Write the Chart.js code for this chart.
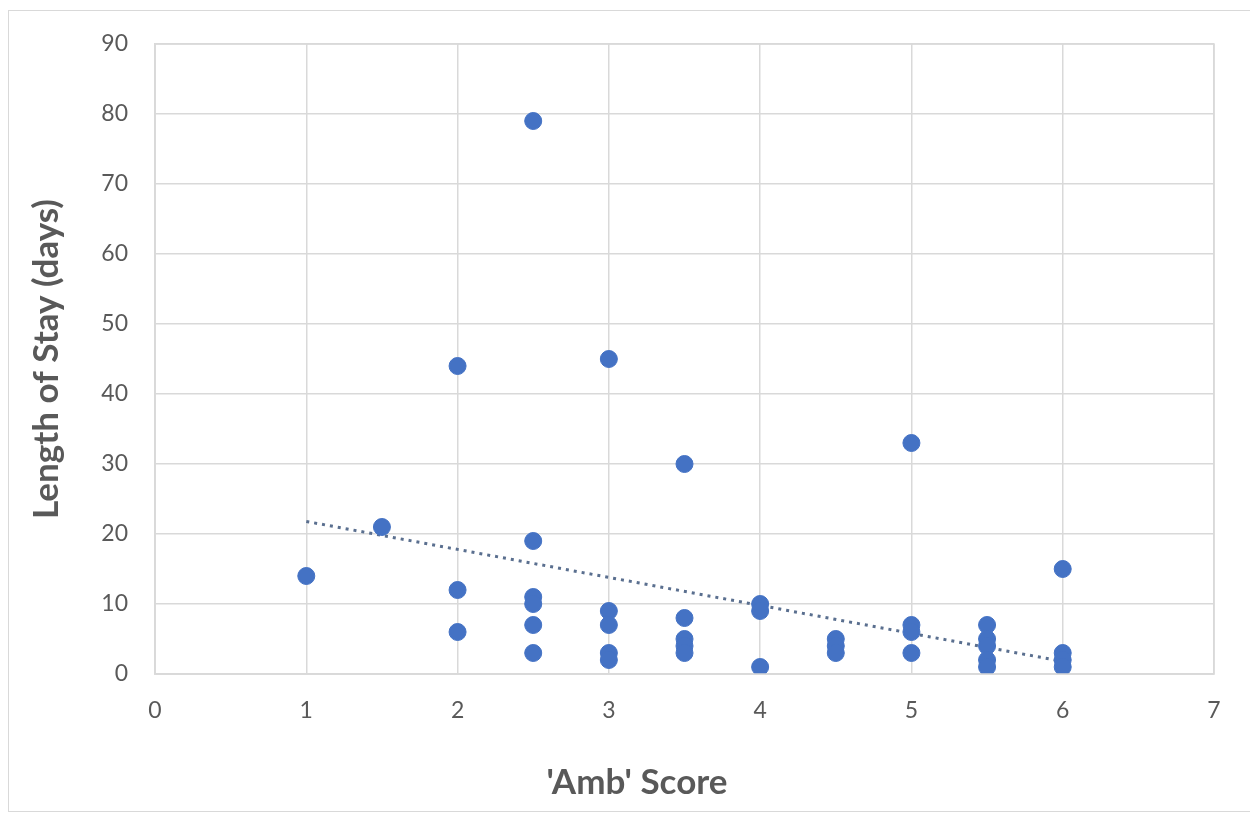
<!DOCTYPE html>
<html>
<head>
<meta charset="utf-8">
<script src="https://cdn.jsdelivr.net/npm/chart.js@4.4.0/dist/chart.umd.min.js"></script>
<style>
	html, body { margin: 0; padding: 0; background: #ffffff; }
	#frame { position: absolute; left: 8px; top: 10px; width: 1250px; height: 802px; border: 1px solid #d9d9d9; box-sizing: border-box; }
	#wrap { position: absolute; left: 0; top: 0; width: 1250px; height: 817px; }
</style>
</head>
<body>
<div id="frame"></div>
<div id="wrap"><canvas id="chart-canvas" width="1250" height="817"></canvas></div>
<script>
// Amb score vs length of stay
const ambScore = [1, 1.5, 2, 2, 2, 2.5, 2.5, 2.5, 2.5, 2.5, 2.5, 3, 3, 3, 3, 3,
	3.5, 3.5, 3.5, 3.5, 3.5, 4, 4, 4, 4.5, 4.5, 4.5, 5, 5, 5, 5,
	5.5, 5.5, 5.5, 5.5, 5.5, 6, 6, 6, 6];
const stayDays = [14, 21, 44, 12, 6, 79, 19, 11, 10, 7, 3, 45, 9, 7, 3, 2,
	30, 8, 5, 4, 3, 10, 9, 1, 5, 4, 3, 33, 7, 6, 3,
	7, 5, 4, 2, 1, 15, 3, 2, 1];
// linear trendline end points
const trendX = [1, 6];
const trendY = [21.8, 1.8];

const xTicks = [0, 1, 2, 3, 4, 5, 6, 7];
const yTicks = [0, 10, 20, 30, 40, 50, 60, 70, 80, 90];

const axisColor = "#595959";
const gridColor = "#d9d9d9";
const fontFamily = "Lato, 'Open Sans', sans-serif";

let points = [];
for(let i = 0; i < ambScore.length; i++)
	points.push({ x : ambScore[i], y : stayDays[i] });
let trend = [];
for(let i = 0; i < trendX.length; i++)
	trend.push({ x : trendX[i], y : trendY[i] });

new Chart(document.getElementById("chart-canvas").getContext("2d"),
{
	type: 'scatter',
	data:
	{
		datasets:
		[{
			label: "Trend",
			type: 'line',
			data: trend,
			borderColor: '#5a6f8f',
			borderWidth: 3,
			borderDash: [3, 5],
			pointRadius: 0,
			fill: false,
			order: 2
		},
		{
			label: "Length of Stay",
			data: points,
			backgroundColor: '#4472c4',
			borderColor: '#4472c4',
			pointRadius: 8.5,
			pointHoverRadius: 8.5,
			order: 1
		}]
	},
	options:
	{
		responsive: false,
		animation: false,
		layout: { padding: { left: 24, right: 0, top: 44, bottom: 0 } },
		plugins:
		{
			legend: { display: false },
			tooltip: { enabled: false },
			title:
			{
				display: true,
				position: 'bottom',
				text: "'Amb' Score",
				color: axisColor,
				font: { family: fontFamily, size: 35, weight: 'bold' },
				padding: { top: 0, bottom: 13 }
			}
		},
		scales:
		{
			x:
			{
				type: 'linear',
				min: 0,
				max: 7,
				afterBuildTicks: (scale) => { scale.ticks = xTicks.map(v => ({ value : v })); },
				afterFit: (scale) => { scale.height = 88; },
				grid: { color: gridColor, lineWidth: 1.5, drawTicks: false },
				border: { color: gridColor, width: 1.5 },
				ticks:
				{
					color: axisColor,
					padding: 23,
					font: { family: fontFamily, size: 23 }
				}
			},
			y:
			{
				type: 'linear',
				min: 0,
				max: 90,
				afterBuildTicks: (scale) => { scale.ticks = yTicks.map(v => ({ value : v })); },
				afterFit: (scale) => { scale.width = 131; },
				grid: { color: gridColor, lineWidth: 1.5, drawTicks: false },
				border: { color: gridColor, width: 1.5 },
				title:
				{
					display: true,
					text: "Length of Stay (days)",
					color: axisColor,
					font: { family: fontFamily, size: 35, weight: 'bold' },
					padding: { top: 2, bottom: 0 }
				},
				ticks:
				{
					color: axisColor,
					padding: 27,
					font: { family: fontFamily, size: 23 }
				}
			},
			// empty strip on the right so the bottom title sits where the original has it
			yRight:
			{
				type: 'linear',
				position: 'right',
				afterFit: (scale) => { scale.width = 36; },
				grid: { display: false },
				border: { display: false },
				ticks: { display: false }
			}
		}
	},
	plugins:
	[{
		id: "plotBorder",
		afterDraw: (chart) =>
		{
			const ctx = chart.ctx;
			const area = chart.chartArea;
			ctx.save();
			ctx.strokeStyle = gridColor;
			ctx.lineWidth = 1.5;
			ctx.strokeRect(area.left, area.top, area.right - area.left, area.bottom - area.top);
			ctx.restore();
		}
	}]
});
</script>
</body>
</html>
